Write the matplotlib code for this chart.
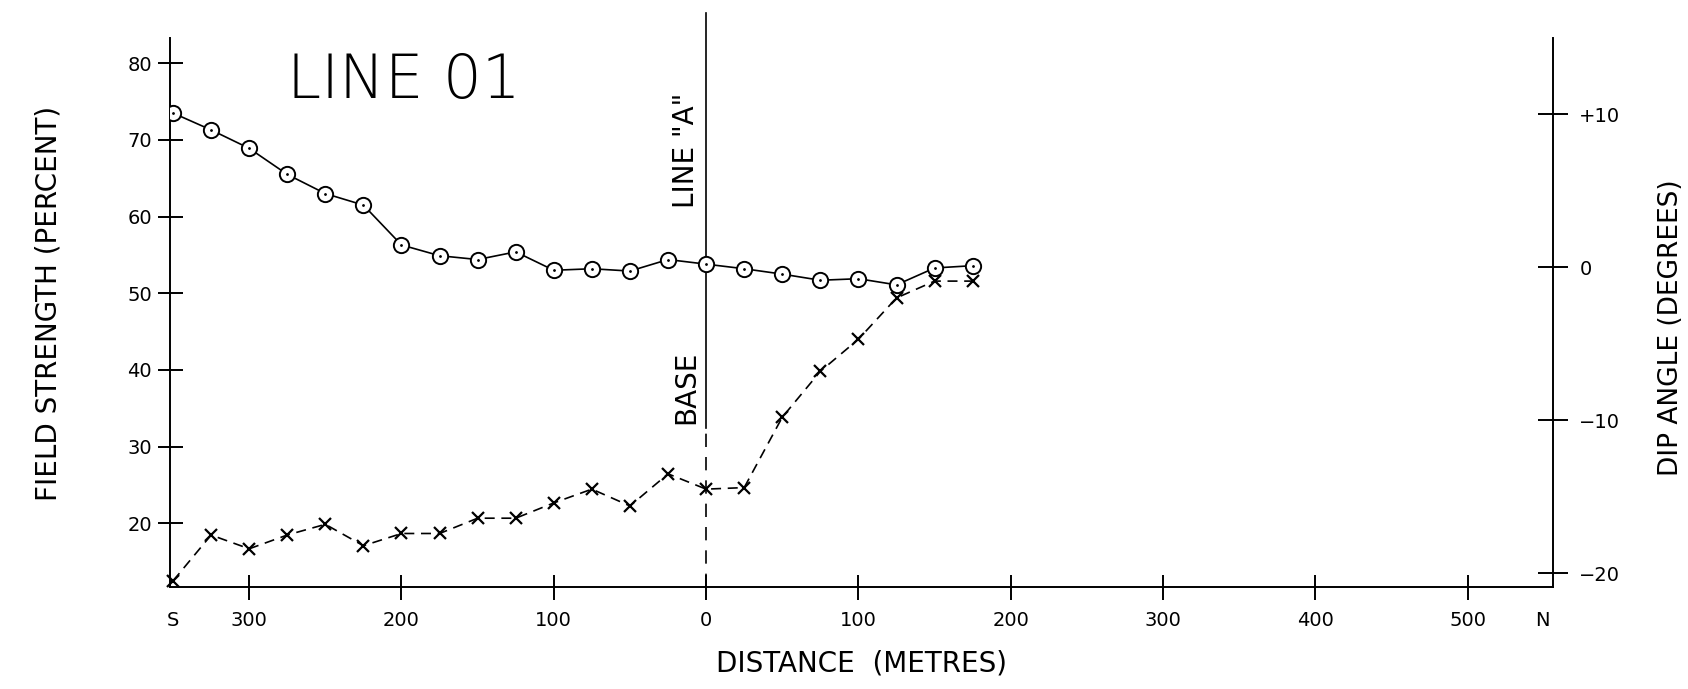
import matplotlib.pyplot as plt

# survey stations along the line (metres, negative = south of base line)
stations = [-350, -325, -300, -275, -250, -225, -200, -175, -150, -125, -100,
            -75, -50, -25, 0, 25, 50, 75, 100, 125, 150, 175]
# field strength (percent), circles
field = [73.5, 71.3, 68.9, 65.5, 63.0, 61.5, 56.3, 54.9, 54.4, 55.4, 53.0,
         53.2, 52.9, 54.4, 53.8, 53.2, 52.5, 51.7, 51.9, 51.1, 53.3, 53.6]
# dip angle (degrees), crosses
dip = [-20.5, -17.5, -18.4, -17.5, -16.8, -18.2, -17.4, -17.4, -16.4, -16.4,
       -15.4, -14.5, -15.6, -13.5, -14.5, -14.4, -9.8, -6.8, -4.7, -2.0,
       -0.9, -0.9]

x_ticks = [-350, -300, -200, -100, 0, 100, 200, 300, 400, 500, 549]
x_labels = ['S', '300', '200', '100', '0', '100', '200', '300', '400', '500', 'N']
left_ticks = [20, 30, 40, 50, 60, 70, 80]
right_ticks = [10, 0, -10, -20]
right_labels = ['+10', '0', '\u221210', '\u221220']


def plotting():
    fig = plt.figure(figsize=(16.88, 6.89), dpi=100)
    ax = fig.add_axes([0.1007, 0.148, 0.8193, 0.797])
    ax2 = ax.twinx()

    ax.set_xlim(-352, 556)
    ax.set_ylim(11.7, 83.3)
    ax2.set_ylim(-20.9, 15.0)

    for s in ['top', 'right']:
        ax.spines[s].set_visible(False)
    for s in ['top', 'left', 'bottom']:
        ax2.spines[s].set_visible(False)
    for sp in [ax.spines['left'], ax.spines['bottom'], ax2.spines['right']]:
        sp.set_linewidth(1.4)

    # base line "A"
    ax.plot([0, 0], [32.5, 86.6], c='black', lw=1.2, clip_on=False)
    ax.plot([0, 0], [11.7, 32.5], c='black', lw=1.2, ls=(0, (8, 6)))
    ax.text(-4, 68.6, 'LINE "A"', rotation=90, ha='right', va='center',
            fontsize=20)
    ax.text(-4, 37.7, 'BASE', rotation=90, ha='right', va='center',
            fontsize=20)

    ax.plot(stations, field, c='black', lw=1.2, marker='o', ms=11,
            mfc='white', mec='black', mew=1.4, zorder=3)
    ax.plot(stations, field, ls='none', marker='.', ms=2, c='black', zorder=4)
    ax2.plot(stations, dip, c='black', lw=1.2, ls=(0, (6, 4)), marker='x',
             ms=8, mew=1.6, zorder=3, clip_on=False)

    ax.set_xticks(x_ticks)
    ax.set_xticklabels(x_labels)
    ax.set_yticks(left_ticks)
    ax2.set_yticks(right_ticks)
    ax2.set_yticklabels(right_labels)
    ax.tick_params(axis='x', direction='inout', length=18, width=1.4,
                   labelsize=14, pad=8)
    ax.tick_params(axis='y', direction='inout', length=18, width=1.4,
                   labelsize=14, pad=4)
    ax2.tick_params(axis='y', direction='inout', length=22, width=1.4,
                    labelsize=14, pad=8)
    # no tick marks under the S and N labels
    for i in [0, len(x_ticks) - 1]:
        ax.xaxis.get_major_ticks()[i].tick1line.set_visible(False)

    ax.set_xlabel('DISTANCE  (METRES)', fontsize=20, labelpad=14)
    fig.text(0.029, 0.56, 'FIELD STRENGTH (PERCENT)', fontsize=20,
             rotation=90, ha='center', va='center')
    fig.text(0.990, 0.524, 'DIP ANGLE (DEGREES)', fontsize=19,
             rotation=90, ha='center', va='center')

    fig.text(0.239, 0.882, 'LINE 01', fontsize=44, ha='center', va='center',
             fontweight='light')

    fig.savefig('out.png', dpi=100)


if __name__ == '__main__':
    plotting()
